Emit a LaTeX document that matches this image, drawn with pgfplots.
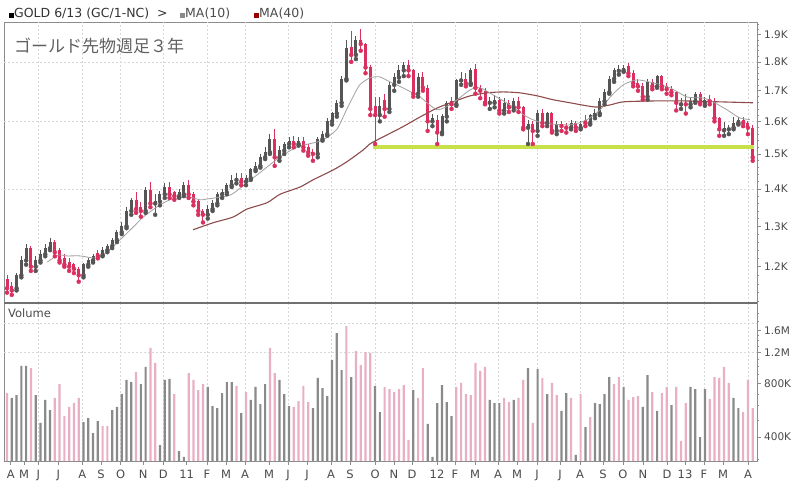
\documentclass[border=0pt]{standalone}
\usepackage{pgfplots}
\pgfplotsset{compat=1.18}
\usepackage{pgfplotstable}
\usepackage{graphicx}
\usepackage{fontspec}
\setmainfont{DejaVu Sans}
\newfontfamily\cjk{Noto Sans CJK JP}
\definecolor{upc}{HTML}{555555}
\definecolor{dnc}{HTML}{D9305F}
\definecolor{volg}{HTML}{8A8A8A}
\definecolor{volp}{HTML}{E9AFC4}
\definecolor{maten}{HTML}{A0A0A0}
\definecolor{mafor}{HTML}{8E4B4B}
\definecolor{supc}{HTML}{C8E04A}
\definecolor{framec}{HTML}{8C8C8C}
\definecolor{gridc}{HTML}{D8D8D8}
\definecolor{labc}{HTML}{4A4A4A}

\pgfplotstableread{
x l h bl bh
2 1145 1185 1150 1180
3 1175 1225 1180 1215
4 1205 1255 1215 1245
6 1190 1225 1200 1215
7 1210 1240 1215 1230
8 1225 1255 1230 1245
9 1240 1270 1245 1260
16 1175 1210 1180 1205
17 1200 1220 1205 1215
18 1210 1230 1215 1225
20 1225 1248 1228 1240
21 1235 1255 1240 1250
22 1245 1270 1250 1265
23 1260 1290 1265 1285
24 1280 1310 1285 1300
25 1295 1350 1300 1340
26 1330 1375 1340 1370
29 1335 1405 1340 1395
31 1330 1385 1360 1365
32 1355 1395 1365 1385
33 1375 1415 1385 1405
36 1375 1400 1380 1390
37 1380 1420 1385 1410
42 1320 1355 1330 1345
43 1340 1370 1345 1360
44 1355 1390 1360 1385
45 1375 1400 1385 1390
46 1385 1415 1390 1410
47 1405 1440 1410 1425
48 1415 1445 1425 1430
50 1410 1440 1420 1430
51 1425 1460 1430 1455
52 1450 1475 1455 1465
53 1460 1500 1465 1490
54 1485 1520 1490 1505
55 1500 1560 1505 1545
57 1480 1525 1490 1510
58 1500 1535 1510 1530
59 1520 1550 1530 1540
61 1525 1550 1530 1540
65 1490 1550 1500 1545
66 1540 1570 1545 1560
67 1555 1610 1560 1600
68 1590 1630 1600 1625
69 1615 1670 1625 1660
70 1650 1750 1660 1740
71 1735 1880 1740 1850
73 1810 1895 1825 1880
78 1600 1680 1620 1650
80 1630 1730 1640 1720
81 1700 1760 1720 1745
82 1730 1790 1745 1770
83 1750 1800 1770 1790
86 1680 1760 1690 1745
89 1585 1625 1600 1610
91 1560 1625 1565 1615
92 1600 1665 1615 1660
94 1650 1740 1655 1735
95 1720 1765 1735 1740
97 1720 1780 1725 1770
101 1640 1680 1660 1665
102 1645 1685 1660 1670
104 1625 1675 1635 1660
106 1635 1675 1645 1665
109 1530 1605 1580 1590
111 1555 1635 1570 1625
113 1585 1630 1595 1625
115 1560 1600 1570 1590
118 1575 1605 1580 1595
120 1575 1600 1580 1590
122 1590 1625 1595 1620
123 1610 1640 1620 1625
124 1620 1675 1625 1665
125 1655 1705 1665 1695
126 1690 1750 1695 1740
127 1730 1780 1740 1770
128 1755 1790 1768 1775
129 1765 1790 1770 1778
134 1670 1740 1680 1730
136 1710 1755 1715 1750
141 1640 1675 1655 1660
143 1645 1680 1655 1665
144 1660 1695 1665 1690
146 1650 1680 1660 1670
150 1555 1598 1572 1578
151 1560 1590 1575 1580
152 1575 1615 1580 1595
153 1590 1615 1595 1605
}\upT

\pgfplotstableread{
x l h bl bh
0 1140 1180 1150 1170
1 1135 1165 1145 1155
5 1190 1250 1200 1245
10 1225 1265 1235 1260
11 1210 1245 1215 1240
12 1200 1230 1205 1220
13 1190 1220 1200 1210
14 1185 1210 1195 1205
15 1165 1200 1180 1195
19 1220 1240 1226 1232
27 1335 1390 1345 1370
28 1325 1365 1340 1350
30 1350 1420 1360 1395
34 1375 1420 1385 1405
35 1370 1395 1380 1390
38 1375 1425 1385 1410
39 1355 1390 1365 1385
40 1330 1370 1340 1365
41 1310 1345 1330 1340
49 1410 1445 1420 1430
56 1465 1577 1490 1545
60 1520 1555 1530 1540
62 1510 1550 1520 1540
63 1495 1530 1505 1520
64 1480 1515 1500 1505
72 1800 1915 1825 1855
74 1840 1920 1865 1880
75 1760 1870 1780 1865
76 1620 1790 1640 1780
77 1530 1680 1620 1650
79 1615 1690 1640 1670
84 1750 1805 1770 1790
85 1680 1775 1690 1770
87 1700 1765 1710 1745
88 1570 1720 1600 1710
90 1530 1620 1565 1605
93 1640 1680 1655 1665
96 1715 1760 1725 1740
98 1690 1792 1710 1775
99 1675 1720 1700 1710
100 1655 1710 1660 1700
103 1625 1680 1635 1670
105 1630 1670 1645 1660
107 1630 1680 1645 1665
108 1575 1650 1580 1645
110 1530 1600 1570 1590
112 1585 1640 1595 1625
114 1565 1630 1570 1625
116 1570 1600 1585 1590
117 1565 1595 1580 1585
119 1570 1600 1580 1595
121 1585 1620 1595 1605
130 1750 1795 1760 1785
131 1715 1770 1725 1760
132 1700 1740 1715 1725
133 1670 1725 1680 1715
135 1705 1740 1715 1730
137 1705 1755 1715 1750
138 1690 1725 1705 1715
139 1685 1715 1695 1705
140 1635 1700 1660 1695
142 1625 1690 1655 1660
145 1655 1695 1660 1690
147 1655 1685 1665 1670
148 1600 1675 1610 1665
149 1555 1615 1575 1610
154 1585 1615 1595 1605
155 1560 1600 1580 1595
156 1480 1590 1490 1580
}\dnT

\pgfplotstableread{
x v
38.9 1291
43.1 1309
47.3 1324
50.2 1345
54.4 1362
57.1 1385
61.3 1405
64.0 1425
68.2 1453
71.1 1477
74.5 1512
75.9 1530
77.4 1542
82.8 1583
86.4 1614
90.0 1643
93.3 1663
96.9 1683
100.4 1693
103.8 1696
107.3 1693
110.9 1683
114.2 1670
117.8 1660
121.3 1650
123.4 1646
126.2 1653
128.9 1663
135.1 1666
142.3 1666
149.2 1663
156.1 1660
}\maFT

\pgfplotstableread{
x v
8.4 1211
10.7 1228
12.6 1226
15.3 1226
18.0 1221
19.5 1223
21.5 1241
23.6 1265
26.4 1298
28.5 1324
31.4 1351
34.1 1370
37.7 1378
40.4 1370
41.8 1372
46.7 1383
50.2 1417
53.6 1453
57.1 1491
60.7 1521
64.0 1533
66.1 1542
69.0 1575
71.1 1640
72.4 1680
73.8 1720
75.9 1744
78.0 1747
80.1 1730
82.8 1710
86.4 1679
90.0 1637
93.3 1660
96.9 1703
99.0 1710
101.7 1686
105.2 1653
108.8 1614
112.1 1595
117.8 1589
121.3 1605
124.1 1637
126.2 1679
128.9 1720
131.8 1737
135.1 1727
138.7 1710
142.3 1679
145.6 1676
147.7 1663
150.6 1637
153.3 1611
155.4 1606
}\maTT

\pgfplotstableread{
x v
1 664
2 690
3 1006
4 1006
6 690
7 480
8 647
9 568
16 486
17 512
18 421
19 492
22 568
23 591
24 699
25 839
26 817
28 796
29 993
32 360
33 839
34 850
36 333
37 309
42 766
43 598
44 583
45 708
46 817
47 817
49 546
51 647
52 766
53 614
54 796
57 839
58 699
59 598
64 583
65 861
66 756
67 681
68 1087
69 1544
70 955
72 872
77 776
78 553
85 736
88 474
89 309
90 622
91 786
92 630
93 525
101 647
102 622
103 622
106 647
109 980
111 967
113 699
116 561
117 708
119 317
121 455
123 622
124 614
125 699
126 872
129 766
133 591
134 895
136 561
139 606
143 766
144 746
145 400
146 746
152 664
153 583
}\volG

\pgfplotstableread{
x v
0 708
5 980
10 664
11 796
12 525
13 591
14 622
15 664
20 461
21 461
27 930
30 1271
31 1046
35 699
38 918
39 839
40 736
41 796
48 776
50 717
55 1271
56 918
60 591
61 638
62 776
63 630
71 1691
73 1222
74 1019
75 1206
76 1191
79 766
80 746
81 717
82 746
83 786
84 385
86 664
87 980
94 766
95 807
96 699
97 690
98 1046
99 943
100 993
104 664
105 630
107 664
108 839
110 480
112 861
114 807
115 690
118 664
120 699
122 518
127 796
128 872
130 647
131 672
132 681
135 717
137 708
138 766
140 766
141 380
142 622
147 655
148 872
149 861
150 993
151 807
154 553
155 839
156 583
}\volP

\pgfplotsset{
  chartbase/.style={
    scale only axis, width=753pt,
    xmin=-0.63, xmax=156.9,
    axis line style={framec, line width=0.8pt},
    tick style={framec, line width=0.6pt},
    tick align=outside,
    major tick length=4pt, minor tick length=2pt,
    ytick pos=right, yticklabel pos=right,
    major grid style={gridc, dash pattern=on 2pt off 2pt, line width=0.6pt},
    extra x ticks={6.55,15.75,23.79,32.70,41.84,49.79,58.79,67.78,76.99,84.73,93.72,102.72,110.88,119.87,128.87,138.08,145.82,155.02},
    extra x tick labels={},
    extra x tick style={grid=major, major tick length=0pt},
    yticklabel style={font=\fontsize{10.5}{12}\selectfont, text=labc, inner sep=2pt, xshift=1pt},
  },
  candle/.style={only marks, mark=none, forget plot,
    error bars/.cd, y dir=plus, y explicit, error mark=none,
    error bar style={line width=#1}},
}

\begin{document}
\begin{tikzpicture}[x=1pt,y=1pt]
\path[use as bounding box] (0,0) rectangle (800,494);

% ---------- price panel ----------
\begin{axis}[chartbase,
  at={(4pt,191pt)}, anchor=south west, height=281pt,
  ymode=log, ymin=1117, ymax=1948,
  xtick=\empty,
  ytick={1200,1300,1400,1500,1600,1700,1800,1900},
  yticklabels={1.2K,1.3K,1.4K,1.5K,1.6K,1.7K,1.8K,1.9K},
  minor ytick={1120,1140,1160,1180,1220,1240,1260,1280,1320,1340,1360,1380,1420,1440,1460,1480,1520,1540,1560,1580,1620,1640,1660,1680,1720,1740,1760,1780,1820,1840,1860,1880,1920,1940},
  extra y ticks={1400,1600,1800},
  extra y tick labels={},
  extra y tick style={grid=major, major tick length=0pt},
]
\addplot[upc, candle=1pt] table[x=x, y=l, y error expr={\thisrow{h}-\thisrow{l}}] {\upT};
\addplot[upc, candle=3pt] table[x=x, y=bl, y error expr={\thisrow{bh}-\thisrow{bl}+0.5}] {\upT};
\addplot[dnc, candle=1pt] table[x=x, y=l, y error expr={\thisrow{h}-\thisrow{l}}] {\dnT};
\addplot[dnc, candle=3pt] table[x=x, y=bl, y error expr={\thisrow{bh}-\thisrow{bl}+0.5}] {\dnT};
\addplot[mafor, line width=1.1pt, smooth, tension=0.4, mark=none] table[x=x, y=v] {\maFT};
\addplot[maten, line width=0.8pt, smooth, tension=0.4, mark=none] table[x=x, y=v] {\maTT};
\addplot[supc, line width=3.5pt, mark=none] coordinates {(76.5,1521) (156.3,1521)};
\end{axis}

% ---------- volume panel ----------
\begin{axis}[chartbase,
  at={(4pt,33pt)}, anchor=south west, height=158pt,
  ymode=log, ymin=293, ymax=2280, log origin=infty,
  xtick={0.77,3.56,6.55,10.73,15.75,19.67,23.79,28.51,32.70,37.59,41.84,45.82,49.79,54.81,58.79,62.76,67.78,71.76,76.99,80.96,84.73,89.96,93.72,97.91,102.72,106.69,110.88,115.69,119.87,124.69,128.87,133.05,138.08,141.84,145.82,149.79,155.02},
  xticklabels={A,M,J,J,A,S,O,N,D,11,F,M,A,M,J,J,A,S,O,N,D,12,F,M,A,M,J,J,A,S,O,N,D,13,F,M,A},
  xtick pos=bottom,
  xticklabel style={font=\fontsize{11.5}{13}\selectfont, text=labc, inner sep=2pt, yshift=-3pt},
  ytick={400,800,1200,1600},
  yticklabels={400K,800K,1.2M,1.6M},
  minor ytick={300,500,600,700,900,1000,1100,1300,1400,1500,1800,2000},
  extra y ticks={1200,1760},
  extra y tick labels={},
  extra y tick style={grid=major, major tick length=0pt},
]
\addplot[ybar, bar width=2.2pt, bar shift=0pt, fill=volg, draw=none] table[x=x, y=v] {\volG};
\addplot[ybar, bar width=2.2pt, bar shift=0pt, fill=volp, draw=none] table[x=x, y=v] {\volP};
\end{axis}

\draw[framec!80!black, line width=1.2pt] (4,191) -- (757,191);

% ---------- texts ----------
\node[anchor=west, inner sep=0pt, font=\cjk\fontsize{17}{19}\selectfont, text=black!62] at (14,448) {ゴールド先物週足３年};
\node[anchor=west, inner sep=0pt, font=\fontsize{11.5}{13}\selectfont, text=labc] at (8,181) {Volume};
\node[anchor=west, inner sep=0pt, font=\fontsize{12.5}{14}\selectfont, text=black!80] at (9,480) {\textcolor{black}{\rule{5pt}{5pt}}GOLD 6/13 (GC/1-NC)};
\node[anchor=west, inner sep=0pt, font=\fontsize{12.5}{14}\selectfont, text=black!80] at (157,480) {>};
\node[anchor=west, inner sep=0pt, font=\fontsize{12.5}{14}\selectfont, text=black!70] at (180,480) {\textcolor{volg}{\rule{5pt}{5pt}}MA(10)};
\node[anchor=west, inner sep=0pt, font=\fontsize{12.5}{14}\selectfont, text=black!70] at (254,480) {\textcolor{red!60!black}{\rule{5pt}{5pt}}MA(40)};
\end{tikzpicture}
\end{document}
